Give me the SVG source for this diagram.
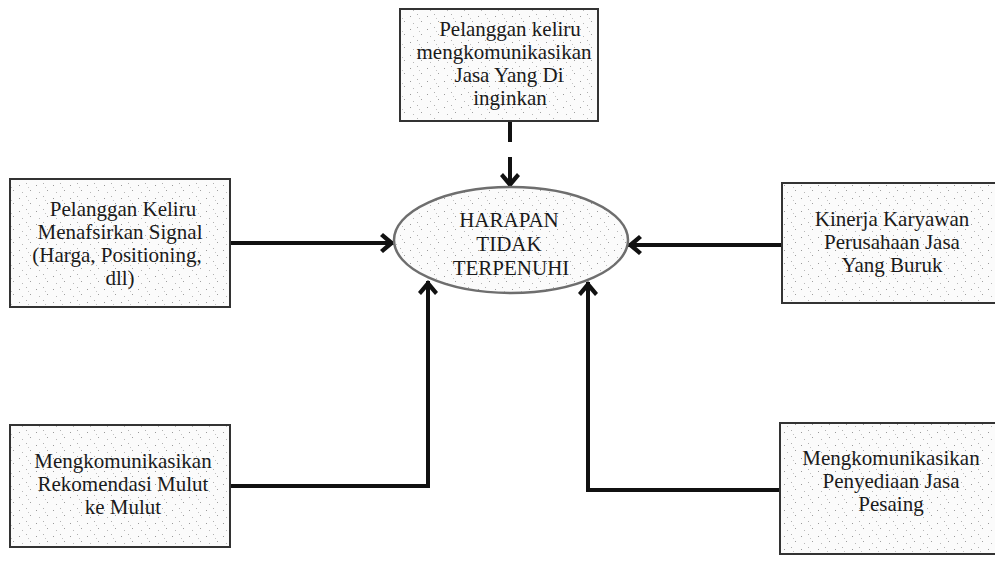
<svg xmlns="http://www.w3.org/2000/svg" width="995" height="561" viewBox="0 0 995 561">
  <style>
    .box { fill: url(#speckle); stroke: #333; stroke-width: 2; }
    .ell { fill: url(#speckle); stroke: #6e6e6e; stroke-width: 2.5; }
    .t { font-family: "Liberation Serif", "Times New Roman", serif; font-size: 21px; fill: #1a1a1a; text-anchor: middle; }
    .c { fill: none; stroke: #111; stroke-width: 4; }
    .ca { fill: none; stroke: #111; stroke-width: 4; marker-end: url(#arr); }
  </style>
  <defs>
    <pattern id="speckle" width="17" height="13" patternUnits="userSpaceOnUse">
      <rect width="17" height="13" fill="#fbfbfb"/>
      <rect x="2" y="3" width="1" height="1" fill="#9a9a9a"/>
      <rect x="9" y="1" width="1" height="1" fill="#b0b0b0"/>
      <rect x="13" y="8" width="1" height="1" fill="#a0a0a0"/>
      <rect x="5" y="10" width="1" height="1" fill="#b8b8b8"/>
      <rect x="11" y="5" width="1" height="1" fill="#c4c4c4"/>
    </pattern>
    <marker id="arr" viewBox="-16 -11 18 22" refX="0" refY="0" markerWidth="18" markerHeight="22" markerUnits="userSpaceOnUse" orient="auto">
      <path d="M1,0 L-11,-10 L-14,-7 L-6,0 L-14,7 L-11,10 Z" fill="#111"/>
    </marker>
  </defs>

  <g id="connectors">
    <line class="c" x1="510" y1="122" x2="510" y2="142"/>
    <line class="ca" x1="510" y1="157" x2="510" y2="187"/>
    <line class="ca" x1="230" y1="243" x2="394" y2="243"/>
    <line class="ca" x1="782" y1="245" x2="628" y2="245"/>
    <polyline class="ca" points="230,486 428,486 428,281"/>
    <polyline class="ca" points="780,490 588,490 588,282"/>
  </g>

  <g id="node-top">
    <rect class="box" x="400" y="9" width="198" height="112"/>
    <text class="t" x="510" y="36">Pelanggan keliru</text>
    <text class="t" x="504" y="59">mengkomunikasikan</text>
    <text class="t" x="509" y="82">Jasa Yang Di</text>
    <text class="t" x="510" y="105">inginkan</text>
  </g>

  <g id="node-left">
    <rect class="box" x="10" y="179" width="220" height="128"/>
    <text class="t" x="123" y="216">Pelanggan Keliru</text>
    <text class="t" x="120" y="239">Menafsirkan Signal</text>
    <text class="t" x="117" y="262">(Harga, Positioning,</text>
    <text class="t" x="120" y="285">dll)</text>
  </g>

  <g id="node-center">
    <ellipse class="ell" cx="511" cy="240" rx="117" ry="53"/>
    <text class="t" x="509" y="227">HARAPAN</text>
    <text class="t" x="509" y="251">TIDAK</text>
    <text class="t" x="511" y="275">TERPENUHI</text>
  </g>

  <g id="node-right">
    <rect class="box" x="782" y="183" width="220" height="120"/>
    <text class="t" x="892" y="226">Kinerja Karyawan</text>
    <text class="t" x="892" y="249">Perusahaan Jasa</text>
    <text class="t" x="892" y="272">Yang Buruk</text>
  </g>

  <g id="node-bottom-left">
    <rect class="box" x="10" y="425" width="220" height="122"/>
    <text class="t" x="123" y="468">Mengkomunikasikan</text>
    <text class="t" x="123" y="491">Rekomendasi Mulut</text>
    <text class="t" x="123" y="514">ke Mulut</text>
  </g>

  <g id="node-bottom-right">
    <rect class="box" x="780" y="423" width="222" height="131"/>
    <text class="t" x="891" y="465">Mengkomunikasikan</text>
    <text class="t" x="891" y="488">Penyediaan Jasa</text>
    <text class="t" x="891" y="511">Pesaing</text>
  </g>
</svg>
